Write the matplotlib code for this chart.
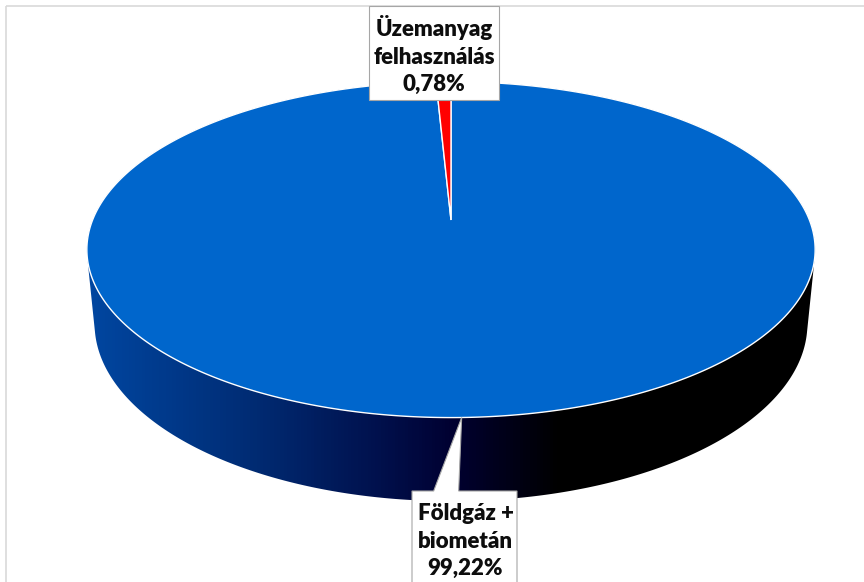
import numpy as np
import matplotlib.pyplot as plt
from matplotlib.patches import Polygon, Rectangle
from matplotlib.colors import LinearSegmentedColormap

labels = ["Földgáz +\nbiometán", "Üzemanyag\nfelhasználás"]
shares = [99.22, 0.78]
pct_text = ["99,22%", "0,78%"]
colors = ["#0066cc", "#ff0000"]

W, H = 864, 582

# perspective view of the 3D pie
cx, cy = 451, 220
scale = 1810
dist = 5.05
tilt = np.radians(27)
thick = 0.234


def project(x, z, y=0.0):
    yc = z * np.sin(tilt) + y * np.cos(tilt)
    zc = dist + z * np.cos(tilt) - y * np.sin(tilt)
    return cx + scale * x / zc, cy - scale * yc / zc


def hull(pts):
    pts = sorted(set(map(tuple, np.round(pts, 3))))
    def cross(o, a, b):
        return (a[0] - o[0]) * (b[1] - o[1]) - (a[1] - o[1]) * (b[0] - o[0])
    lower, upper = [], []
    for p in pts:
        while len(lower) >= 2 and cross(lower[-2], lower[-1], p) <= 0:
            lower.pop()
        lower.append(p)
    for p in reversed(pts):
        while len(upper) >= 2 and cross(upper[-2], upper[-1], p) <= 0:
            upper.pop()
        upper.append(p)
    return np.array(lower[:-1] + upper[:-1])


fig = plt.figure(figsize=(W / 100, H / 100), dpi=100)
ax = fig.add_axes([0, 0, 1, 1])
ax.set_xlim(0, W)
ax.set_ylim(H, 0)
ax.axis("off")

# outer frame
ax.add_patch(Rectangle((6, 6), W + 20, H + 20, fill=False, edgecolor="#d9d9d9", lw=1.2))

# side wall (gradient, clipped to the silhouette of the cylinder)
t = np.linspace(0, 2 * np.pi, 721)
top_u, top_v = project(np.cos(t), np.sin(t))
bot_u, bot_v = project(np.cos(t), np.sin(t), -thick)
pts = np.column_stack([np.r_[top_u, bot_u], np.r_[top_v, bot_v]])
side = Polygon(hull(pts), closed=True, facecolor="none", edgecolor="none")
ax.add_patch(side)
side_cmap = LinearSegmentedColormap.from_list("side", [
    (0.0, "#0049a6"), (90 / W, "#0046a0"), (250 / W, "#002c74"),
    (380 / W, "#00104c"), (455 / W, "#000030"), (560 / W, "#000000"),
    (1.0, "#000000")])
grad = np.linspace(0, 1, W).reshape(1, -1)
im = ax.imshow(grad, extent=(0, W, H, 0), aspect="auto", cmap=side_cmap, zorder=1)
im.set_clip_path(side)

# top face, slices clockwise from 12 o'clock
start = 90.0
mids = []
for share, col in zip(shares, colors):
    sweep = share / sum(shares) * 360
    th = np.radians(np.linspace(start, start - sweep, max(int(sweep * 2), 4)))
    u, v = project(np.cos(th), np.sin(th))
    cu, cv = project(0.0, 0.0)
    ax.add_patch(Polygon(np.column_stack([np.r_[cu, u], np.r_[cv, v]]), closed=True,
                         facecolor=col, edgecolor="white", lw=1.0, zorder=2))
    mids.append(np.radians(start - sweep / 2))
    start -= sweep

# data labels (callouts)
box_kw = dict(facecolor="white", edgecolor="#a6a6a6", lw=0.8, zorder=4)
font = dict(family="Lato", fontweight="heavy", fontsize=16, color="#0d0d0d",
            ha="center", va="center", linespacing=1.38, zorder=5)

# Földgáz + biometán: box below the pie, pointer to the front rim
tip_u, tip_v = project(np.cos(mids[0]), np.sin(mids[0]))
x0, x1, y0 = 412, 517, 491
ax.add_patch(Polygon([(x0, y0), (tip_u - 28, y0), (tip_u, tip_v), (tip_u - 3, y0),
                      (x1, y0), (x1, H + 10), (x0, H + 10)], closed=True, **box_kw))
ax.text((x0 + x1) / 2 + 1, 541, labels[0] + "\n" + pct_text[0], **font)

# Üzemanyag felhasználás: box above the pie
ax.add_patch(Rectangle((369, 6), 130, 94, **box_kw))
ax.text(434, 55, labels[1] + "\n" + pct_text[1], **font)

fig.savefig("out.png", dpi=100)
